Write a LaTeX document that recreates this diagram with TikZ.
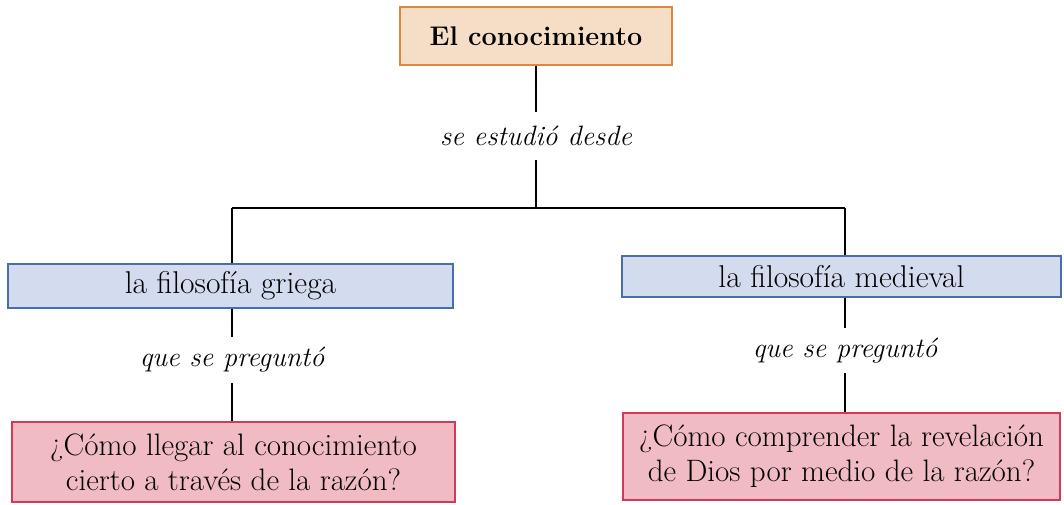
\documentclass[tikz,border=0pt]{standalone}
\usepackage{fontspec}
\definecolor{peachfill}{HTML}{F6DEC6}
\definecolor{peachline}{HTML}{E0873E}
\definecolor{bluefill}{HTML}{D3DBEE}
\definecolor{blueline}{HTML}{4A6DB0}
\definecolor{pinkfill}{HTML}{F1BBC3}
\definecolor{pinkline}{HTML}{D23A58}
\begin{document}
\begin{tikzpicture}[x=1pt,y=-1pt,
  box/.style={draw, line width=1.3pt, inner sep=0pt, align=center, text=black},
  titlebox/.style={box, fill=peachfill, draw=peachline, minimum width=272pt, minimum height=58pt, font=\fontsize{27}{31}\selectfont\bfseries},
  catbox/.style={box, fill=bluefill, draw=blueline, font=\fontsize{31.5}{34}\selectfont},
  qbox/.style={box, fill=pinkfill, draw=pinkline, font=\fontsize{31}{35}\selectfont},
  lab/.style={inner sep=0pt, font=\fontsize{28}{30}\selectfont\itshape},
  conn/.style={line width=1.1pt, black}]
\useasboundingbox (0,0) rectangle (1064,504);
\node[titlebox] (top) at (536,36) {El conocimiento};
\node[lab, minimum height=48pt] (lab1) at (536,136) {se estudió desde};
\node[catbox, minimum width=445pt, minimum height=44pt] (lg) at (230.5,286) {la filosofía griega};
\node[catbox, minimum width=439pt, minimum height=41pt] (rg) at (841.5,276.5) {la filosofía medieval};
\node[lab, minimum height=46pt] (lab2) at (232,360) {que se preguntó};
\node[lab, minimum height=45pt] (lab3) at (845,350.5) {que se preguntó};
\node[qbox, minimum width=443pt, minimum height=80pt] (q1) at (233.5,462) {¿Cómo llegar al conocimiento\\cierto a través de la razón?};
\node[qbox, minimum width=437pt, minimum height=87pt] (q2) at (841.5,456.5) {¿Cómo comprender la revelación\\de Dios por medio de la razón?};
\coordinate (br) at (536,208);
\coordinate (bl) at (232,208);
\coordinate (brr) at (845,208);
\draw[conn] (top.south) -- (lab1.north);
\draw[conn] (lab1.south) -- (br);
\draw[conn] (bl) -- (brr);
\draw[conn] (bl) -- (bl |- lg.north);
\draw[conn] (brr) -- (brr |- rg.north);
\draw[conn] (lg.south -| lab2.north) -- (lab2.north);
\draw[conn] (lab2.south) -- (lab2.south |- q1.north);
\draw[conn] (rg.south -| lab3.north) -- (lab3.north);
\draw[conn] (lab3.south) -- (lab3.south |- q2.north);
\end{tikzpicture}
\end{document}
